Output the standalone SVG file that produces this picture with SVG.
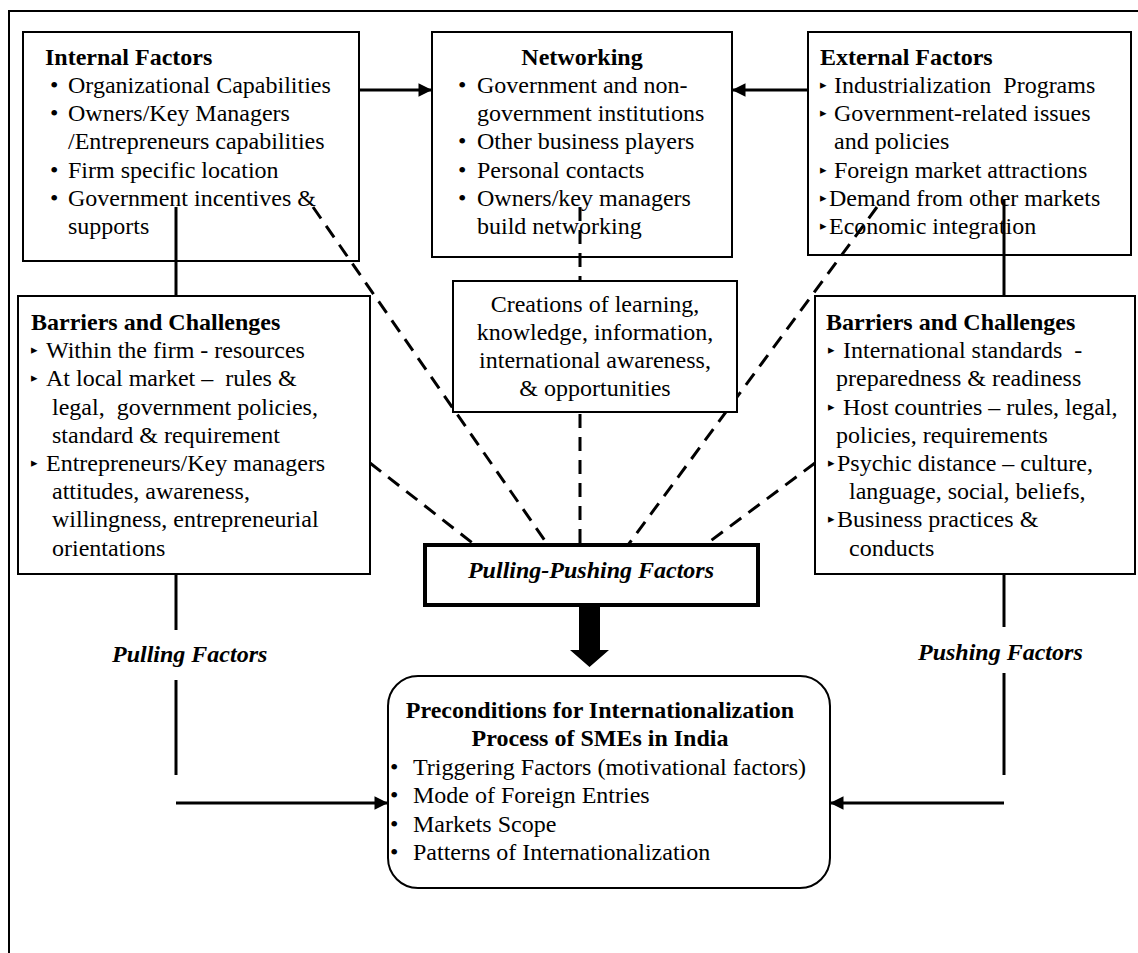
<svg xmlns="http://www.w3.org/2000/svg" width="1138" height="953" viewBox="0 0 1138 953">
<style>
text{font-family:"Liberation Serif","Times New Roman",serif;font-size:24px;fill:#000}
.b{font-weight:bold}
.bi{font-weight:bold;font-style:italic}
.m{text-anchor:middle}
.tri{font-family:"DejaVu Sans",sans-serif;font-size:13px}
.box{fill:#fff;stroke:#000;stroke-width:2}
.ln{stroke:#000;stroke-width:3;fill:none}
.dash{stroke:#000;stroke-width:3;fill:none;stroke-dasharray:14 9}
</style>
<defs>
<marker id="ah" viewBox="0 0 10 10" refX="10" refY="5" markerWidth="5" markerHeight="4.5" orient="auto" markerUnits="strokeWidth">
<path d="M0,0 L10,5 L0,10 z" fill="#000"/>
</marker>
</defs>
<rect width="1138" height="953" fill="#fff"/>
<path d="M9,953 V11 H1138" fill="none" stroke="#000" stroke-width="2"/>

<g id="internal">
<rect class="box" x="23" y="32" width="336" height="229"/>
<text class="b" x="45" y="65">Internal Factors</text>
<text x="50" y="93">•</text><text x="68" y="93">Organizational Capabilities</text>
<text x="50" y="121">•</text><text x="68" y="121">Owners/Key Managers</text>
<text x="68" y="149">/Entrepreneurs capabilities</text>
<text x="50" y="178">•</text><text x="68" y="178">Firm specific location</text>
<text x="50" y="206">•</text><text x="68" y="206">Government incentives &amp;</text>
<text x="68" y="234">supports</text>
</g>

<g id="networking">
<rect class="box" x="432" y="32" width="300" height="225"/>
<text class="b m" x="582" y="65">Networking</text>
<text x="458" y="93">•</text><text x="477" y="93">Government and non-</text>
<text x="477" y="121">government institutions</text>
<text x="458" y="149">•</text><text x="477" y="149">Other business players</text>
<text x="458" y="178">•</text><text x="477" y="178">Personal contacts</text>
<text x="458" y="206">•</text><text x="477" y="206">Owners/key managers</text>
<text x="477" y="234">build networking</text>
</g>

<g id="external">
<rect class="box" x="808" y="32" width="323" height="223"/>
<text class="b" x="820" y="65">External Factors</text>
<text class="tri" x="820" y="89">▸</text><text x="834" y="93" xml:space="preserve">Industrialization  Programs</text>
<text class="tri" x="820" y="117">▸</text><text x="834" y="121">Government-related issues</text>
<text x="834" y="149">and policies</text>
<text class="tri" x="820" y="174">▸</text><text x="834" y="178">Foreign market attractions</text>
<text class="tri" x="820" y="202">▸</text><text x="829" y="206">Demand from other markets</text>
<text class="tri" x="820" y="230">▸</text><text x="829" y="234">Economic integration</text>
</g>

<g id="connectors">
<line class="ln" x1="359" y1="90" x2="432" y2="90" marker-end="url(#ah)"/>
<line class="ln" x1="808" y1="90" x2="732" y2="90" marker-end="url(#ah)"/>
<line class="ln" x1="176" y1="207" x2="176" y2="296"/>
<line class="ln" x1="176" y1="574" x2="176" y2="630"/>
<line class="ln" x1="176" y1="680" x2="176" y2="775"/>
<line class="ln" x1="1004" y1="200" x2="1004" y2="296"/>
<line class="ln" x1="1004" y1="574" x2="1004" y2="627"/>
<line class="ln" x1="1004" y1="673" x2="1004" y2="775"/>
<line class="ln" x1="176" y1="803" x2="388" y2="803" marker-end="url(#ah)"/>
<line class="ln" x1="1004" y1="803" x2="830" y2="803" marker-end="url(#ah)"/>
<line class="dash" x1="313" y1="207" x2="548" y2="545"/>
<line class="dash" x1="370" y1="463" x2="475" y2="545"/>
<line class="dash" x1="580" y1="207" x2="580" y2="545"/>
<line class="dash" x1="877" y1="207" x2="628" y2="545"/>
<line class="dash" x1="815" y1="463" x2="705" y2="545"/>
<polygon points="579,605 600,605 600,650 609,650 589.5,667 570,650 579,650" fill="#000"/>
</g>

<g id="barriers-left">
<rect class="box" x="18" y="296" width="352" height="278"/>
<text class="b" x="31" y="330">Barriers and Challenges</text>
<text class="tri" x="31" y="354">▸</text><text x="46" y="358">Within the firm - resources</text>
<text class="tri" x="31" y="382">▸</text><text x="46" y="386" xml:space="preserve">At local market –  rules &amp;</text>
<text x="52" y="415" xml:space="preserve">legal,  government policies,</text>
<text x="52" y="443">standard &amp; requirement</text>
<text class="tri" x="31" y="467">▸</text><text x="46" y="471">Entrepreneurs/Key managers</text>
<text x="52" y="499">attitudes, awareness,</text>
<text x="52" y="527">willingness, entrepreneurial</text>
<text x="52" y="556">orientations</text>
</g>

<g id="creations">
<rect class="box" x="453" y="281" width="284" height="131"/>
<text class="m" x="595" y="312">Creations of learning,</text>
<text class="m" x="595" y="340">knowledge, information,</text>
<text class="m" x="595" y="368">international awareness,</text>
<text class="m" x="595" y="396">&amp; opportunities</text>
</g>

<g id="barriers-right">
<rect class="box" x="815" y="296" width="320" height="278"/>
<text class="b" x="826" y="330">Barriers and Challenges</text>
<text class="tri" x="828" y="354">▸</text><text x="843" y="358" xml:space="preserve">International standards  -</text>
<text x="836" y="386">preparedness &amp; readiness</text>
<text class="tri" x="828" y="411">▸</text><text x="843" y="415">Host countries – rules, legal,</text>
<text x="836" y="443">policies, requirements</text>
<text class="tri" x="828" y="467">▸</text><text x="837" y="471">Psychic distance – culture,</text>
<text x="849" y="499">language, social, beliefs,</text>
<text class="tri" x="828" y="523">▸</text><text x="837" y="527">Business practices &amp;</text>
<text x="849" y="556">conducts</text>
</g>

<g id="pulling-pushing">
<rect x="425" y="545" width="333" height="60" fill="#fff" stroke="#000" stroke-width="4"/>
<text class="bi m" x="591" y="578">Pulling-Pushing Factors</text>
</g>

<g id="pulling-label"><text class="bi" x="112" y="662">Pulling Factors</text></g>
<g id="pushing-label"><text class="bi" x="918" y="660">Pushing Factors</text></g>

<g id="preconditions">
<rect class="box" x="388" y="676" width="442" height="212" rx="30" ry="30"/>
<text class="b m" x="600" y="718">Preconditions for Internationalization</text>
<text class="b m" x="600" y="746">Process of SMEs in India</text>
<text x="390" y="775">•</text><text x="413" y="775">Triggering Factors (motivational factors)</text>
<text x="390" y="803">•</text><text x="413" y="803">Mode of Foreign Entries</text>
<text x="390" y="832">•</text><text x="413" y="832">Markets Scope</text>
<text x="390" y="860">•</text><text x="413" y="860">Patterns of Internationalization</text>
</g>
</svg>
